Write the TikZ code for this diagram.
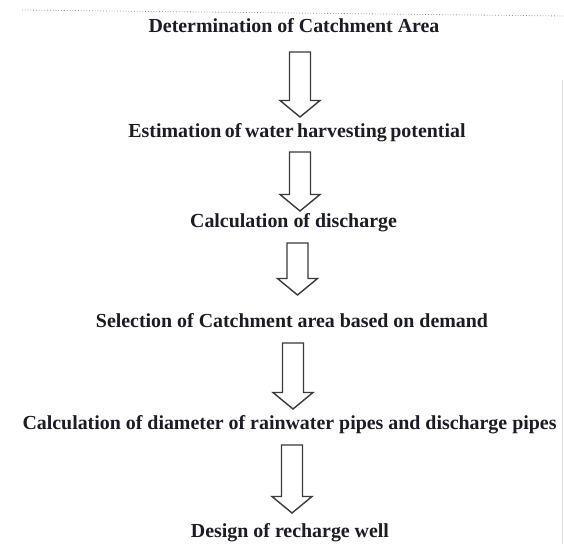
\documentclass[tikz,border=0pt]{standalone}
\usepackage{fontspec}
\setmainfont{Liberation Serif}
\usetikzlibrary{calc}
\definecolor{inkc}{HTML}{1C1C26}
\definecolor{arrc}{HTML}{3A3A40}
\definecolor{scanc}{HTML}{8A8FA8}
\tikzset{
  lbl/.style={anchor=base, inner sep=0pt, text=inkc,
    font=\fontsize{19.9}{24}\selectfont\bfseries},
  blockarrow/.style={draw=arrc, line width=1.4pt, fill=white, line join=miter},
  scanline/.style={draw=scanc, line width=0.8pt, dotted},
  scanedge/.style={draw=gray!25, line width=0.8pt}
}
\newcommand\hollowarrow[2]{%
  \draw[blockarrow] ($(#1)+(-10.5,0)$) -- ($(#1)+(10.5,0)$) -- ($(#2)+(10.5,16.5)$)
    -- ($(#2)+(20,16.5)$) -- (#2) -- ($(#2)+(-20,16.5)$) -- ($(#2)+(-10.5,16.5)$) -- cycle;}
\begin{document}
\begin{tikzpicture}[x=1pt,y=1pt]
\useasboundingbox (0,0) rectangle (564,-544);
\fill[white] (0,0) rectangle (564,-544);
% scan border remnants
\draw[scanline] (22,-10) -- (564,-16);
\draw[scanedge] (562.5,-80) -- (562.5,-544);
% steps
\node[lbl] (n1) at (294,-32) {Determination of Catchment Area};
\node[lbl] (n2) at (297,-137) {\spaceskip=0.18em plus 0.05em Estimation of water harvesting potential};
\node[lbl] (n3) at (293.5,-227) {Calculation of discharge};
\node[lbl] (n4) at (292,-327) {Selection of Catchment area based on demand};
\node[lbl] (n5) at (289.5,-429) {Calculation of diameter of rainwater pipes and discharge pipes};
\node[lbl] (n6) at (290,-537) {Design of recharge well};
% arrow ends
\coordinate (t1) at (300,-52);  \coordinate (b1) at (300,-117);
\coordinate (t2) at (300,-152); \coordinate (b2) at (300,-211);
\coordinate (t3) at (297.5,-243); \coordinate (b3) at (297.5,-295);
\coordinate (t4) at (293,-343); \coordinate (b4) at (293,-409);
\coordinate (t5) at (292,-445); \coordinate (b5) at (292,-513);
\hollowarrow{t1}{b1}
\hollowarrow{t2}{b2}
\hollowarrow{t3}{b3}
\hollowarrow{t4}{b4}
\hollowarrow{t5}{b5}
\end{tikzpicture}
\end{document}
